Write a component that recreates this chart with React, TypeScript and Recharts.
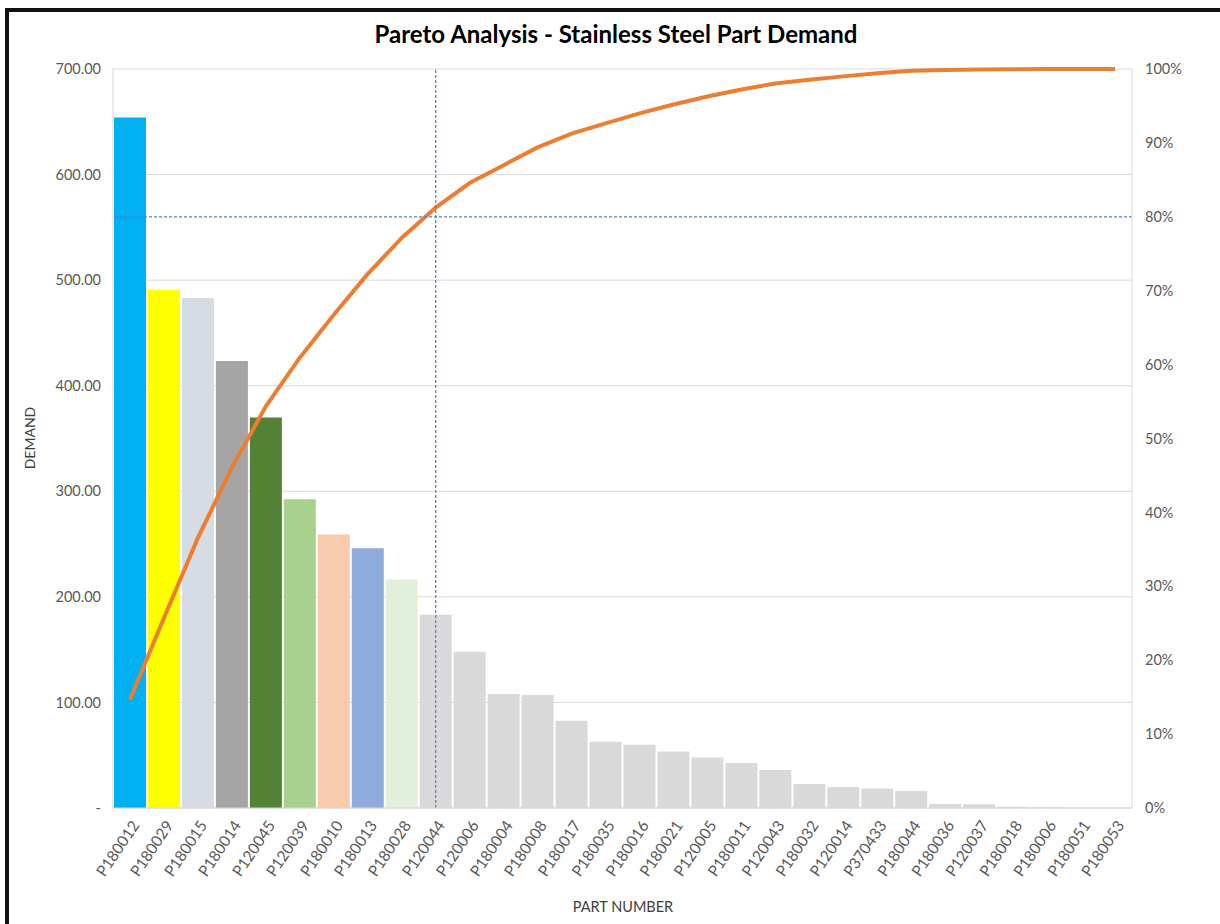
import React from "react";
import {
  ComposedChart,
  Bar,
  Line,
  XAxis,
  YAxis,
  CartesianGrid,
  ReferenceLine,
  Cell,
} from "recharts";

const parts = [
  "P180012", "P180029", "P180015", "P180014", "P120045", "P120039", "P180010", "P180013",
  "P180028", "P120044", "P120006", "P180004", "P180008", "P180017", "P180035", "P180016",
  "P180021", "P120005", "P180011", "P120043", "P180032", "P120014", "P370433", "P180044",
  "P180036", "P120037", "P180018", "P180006", "P180051", "P180053",
];

const demand = [
  654, 491, 483, 423.5, 370, 292.5, 259, 246,
  216.5, 183, 148, 108, 107, 82.6, 62.7, 60,
  53.5, 47.8, 42.7, 36, 22.8, 20, 18.4, 16,
  3.8, 3.5, 1.2, 1, 0.3, 0.2,
];

const barColors = [
  "#00B0F0", "#FFFF00", "#D6DCE4", "#A5A5A5", "#548235", "#A9D18E", "#F8CBAD", "#8FAADC",
  "#E2EFDA",
];
const restColor = "#D9D9D9";

const leftTicks = [0, 100, 200, 300, 400, 500, 600, 700];
const rightTicks = [0, 0.1, 0.2, 0.3, 0.4, 0.5, 0.6, 0.7, 0.8, 0.9, 1];

const total = demand.reduce((a, b) => a + b, 0);
let running = 0;
const data = parts.map((p, i) => {
  running += demand[i];
  return { part: p, demand: demand[i], cum: running / total };
});

const FONT = "Lato, 'Open Sans', sans-serif";

const XTick = (props: any) => {
  const { x, y, payload } = props;
  const px = x + 5;
  const py = y + 6;
  return (
    <text
      x={px}
      y={py}
      transform={`rotate(-56 ${px} ${py})`}
      textAnchor="end"
      dominantBaseline="central"
      fontSize={15.5}
      fontFamily={FONT}
      fill="#595959"
    >
      {payload.value}
    </text>
  );
};

export default function App() {
  return (
    <div
      style={{
        position: "fixed",
        left: 0,
        top: 0,
        width: 1220,
        height: 924,
        overflow: "hidden",
        background: "#fff",
        fontFamily: FONT,
      }}
    >
      <div
        style={{
          position: "absolute",
          left: 5,
          top: 8,
          width: 1400,
          height: 1100,
          borderLeft: "4px solid #111",
          borderTop: "4px solid #111",
        }}
      />
      <div style={{ position: "absolute", left: 0, top: 0 }}>
        <ComposedChart
          width={1220}
          height={924}
          data={data}
          margin={{ top: 69, right: 28, bottom: 36, left: 53 }}
          barCategoryGap={1}
        >
          <CartesianGrid vertical={false} stroke="#D9D9D9" strokeWidth={1} yAxisId="left" />
          <XAxis
            dataKey="part"
            interval={0}
            tickLine={false}
            axisLine={{ stroke: "#D9D9D9" }}
            height={80}
            tick={<XTick />}
          />
          <YAxis
            yAxisId="left"
            orientation="left"
            width={60}
            domain={[0, 700]}
            ticks={leftTicks}
            tickLine={false}
            axisLine={{ stroke: "#D9D9D9" }}
            tickMargin={6}
            tick={{ fontSize: 14.5, fill: "#595959", fontFamily: FONT }}
            tickFormatter={(v: number) => (v === 0 ? "-  " : v.toFixed(2))}
          />
          <YAxis
            yAxisId="right"
            orientation="right"
            width={60}
            domain={[0, 1]}
            ticks={rightTicks}
            tickLine={false}
            axisLine={{ stroke: "#D9D9D9" }}
            tickMargin={7}
            tick={{ fontSize: 14.5, fill: "#595959", fontFamily: FONT, textAnchor: "start" }}
            tickFormatter={(v: number) => `${Math.round(v * 100)}%`}
          />
          <Bar yAxisId="left" dataKey="demand" isAnimationActive={false}>
            {data.map((d, i) => (
              <Cell key={d.part} fill={i < barColors.length ? barColors[i] : restColor} />
            ))}
          </Bar>
          <Line
            yAxisId="right"
            dataKey="cum"
            type="linear"
            stroke="#ED7D31"
            strokeWidth={4}
            dot={false}
            isAnimationActive={false}
          />
          <ReferenceLine
            yAxisId="right"
            y={0.8}
            stroke="#4A7FD6"
            strokeDasharray="3 2"
            strokeWidth={1.2}
          />
          <ReferenceLine
            yAxisId="right"
            x="P120044"
            stroke="#4A7FD6"
            strokeDasharray="3 2"
            strokeWidth={1.2}
          />
        </ComposedChart>
      </div>
      <div
        style={{
          position: "absolute",
          left: 0,
          width: 1232,
          top: 19,
          textAlign: "center",
          fontSize: 24,
          fontWeight: 700,
          color: "#000",
        }}
      >
        Pareto Analysis - Stainless Steel Part Demand
      </div>
      <div
        style={{
          position: "absolute",
          left: 29,
          top: 438,
          transform: "translate(-50%, -50%) rotate(-90deg)",
          fontSize: 14,
          color: "#404040",
          whiteSpace: "nowrap",
        }}
      >
        DEMAND
      </div>
      <div
        style={{
          position: "absolute",
          left: 623,
          top: 906,
          transform: "translate(-50%, -50%)",
          fontSize: 14.5,
          color: "#404040",
          whiteSpace: "nowrap",
        }}
      >
        PART NUMBER
      </div>
    </div>
  );
}
